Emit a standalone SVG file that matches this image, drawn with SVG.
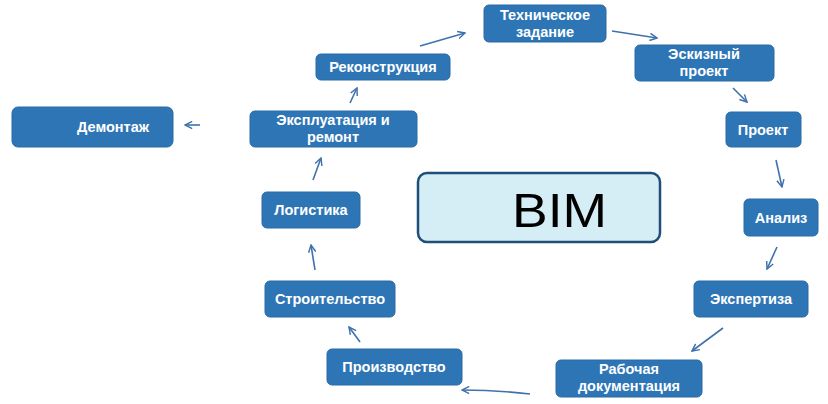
<svg xmlns="http://www.w3.org/2000/svg" width="828" height="404" viewBox="0 0 828 404">
<defs>
<style>
.b{fill:#2e75b6;stroke:#2a6aa6;stroke-width:1}
.t{fill:#fff;font-family:"Liberation Sans",Arial,sans-serif;font-size:14.5px;font-weight:bold;text-anchor:middle}
.c{fill:none;stroke:#3f72ad;stroke-width:1.6}
</style>
<marker id="a" viewBox="0 0 10 10" refX="9" refY="5" markerWidth="9" markerHeight="9" markerUnits="userSpaceOnUse" orient="auto">
<path d="M1,1 L9,5 L1,9" fill="none" stroke="#3f72ad" stroke-width="1.6"/>
</marker>
</defs>
<rect width="828" height="404" fill="#fff"/>
<g id="connectors">
<path class="c" d="M420,46 L465,33" marker-end="url(#a)"/>
<path class="c" d="M612,31 L657,38" marker-end="url(#a)"/>
<path class="c" d="M733,88 L747,102" marker-end="url(#a)"/>
<path class="c" d="M776,160 L782,187" marker-end="url(#a)"/>
<path class="c" d="M777,247 L767,269" marker-end="url(#a)"/>
<path class="c" d="M723,328 L692,351" marker-end="url(#a)"/>
<path class="c" d="M530,394 Q495,390 462,390" marker-end="url(#a)"/>
<path class="c" d="M360,342 L349,327" marker-end="url(#a)"/>
<path class="c" d="M315,270 L311,245" marker-end="url(#a)"/>
<path class="c" d="M313,180 L321,158" marker-end="url(#a)"/>
<path class="c" d="M350,103 L357,88" marker-end="url(#a)"/>
<path class="c" d="M200,125 L185,125" marker-end="url(#a)"/>
</g>
<g id="bim">
<rect x="418" y="173" width="242" height="69" rx="9" fill="#d5eef6" stroke="#1f4e79" stroke-width="2.5"/>
<text x="512" y="227" font-family="Liberation Sans, Arial, sans-serif" font-size="48" fill="#000" textLength="95" lengthAdjust="spacingAndGlyphs">BIM</text>
</g>
<g id="n-tz"><rect class="b" x="484" y="5" width="122" height="37" rx="5"/><text class="t" x="545" y="20">Техническое</text><text class="t" x="545" y="37">задание</text></g>
<g id="n-ep"><rect class="b" x="635" y="45" width="139" height="36" rx="5"/><text class="t" x="704" y="59">Эскизный</text><text class="t" x="704" y="76">проект</text></g>
<g id="n-pr"><rect class="b" x="726" y="112" width="75" height="35" rx="5"/><text class="t" x="763" y="135">Проект</text></g>
<g id="n-an"><rect class="b" x="744" y="199" width="74" height="37" rx="5"/><text class="t" x="781" y="223">Анализ</text></g>
<g id="n-ex"><rect class="b" x="694" y="281" width="114" height="36" rx="5"/><text class="t" x="751" y="304">Экспертиза</text></g>
<g id="n-rd"><rect class="b" x="556" y="360" width="146" height="37" rx="5"/><text class="t" x="629" y="374">Рабочая</text><text class="t" x="629" y="391">документация</text></g>
<g id="n-pz"><rect class="b" x="327" y="349" width="135" height="36" rx="5"/><text class="t" x="394" y="372">Производство</text></g>
<g id="n-st"><rect class="b" x="265" y="281" width="130" height="36" rx="5"/><text class="t" x="330" y="304">Строительство</text></g>
<g id="n-lg"><rect class="b" x="262" y="192" width="98" height="36" rx="5"/><text class="t" x="311" y="215">Логистика</text></g>
<g id="n-er"><rect class="b" x="250" y="111" width="167" height="36" rx="5"/><text class="t" x="333" y="125">Эксплуатация и</text><text class="t" x="333" y="142">ремонт</text></g>
<g id="n-rk"><rect class="b" x="316" y="54" width="134" height="26" rx="5"/><text class="t" x="383" y="72">Реконструкция</text></g>
<g id="n-dm"><rect class="b" x="12" y="107" width="161" height="40" rx="6"/><text class="t" x="113" y="132">Демонтаж</text></g>
</svg>
